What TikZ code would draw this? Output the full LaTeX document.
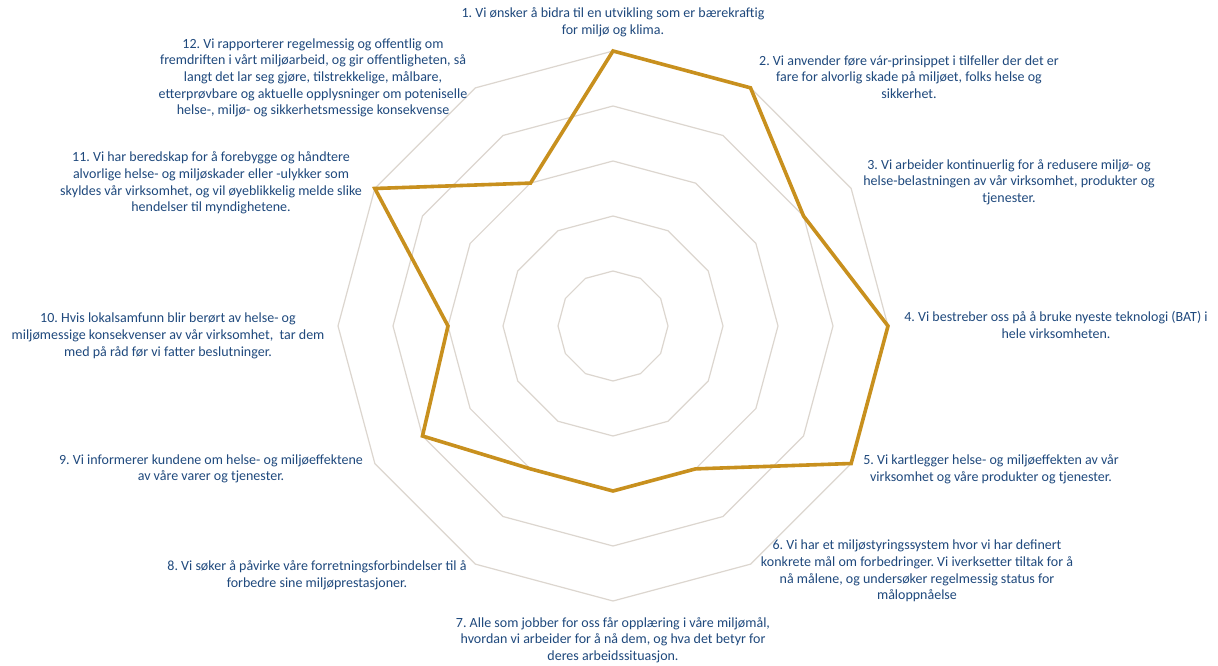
\documentclass[tikz,border=0pt]{standalone}
\usepackage{fontspec}
\setmainfont{Carlito}
\frenchspacing
\definecolor{ringgray}{HTML}{DCD6CF}
\definecolor{gold}{HTML}{C8901E}
\definecolor{txtblue}{HTML}{1F497D}
\begin{document}
\begin{tikzpicture}[x=0.75pt,y=-0.75pt,
  ring/.style={draw=ringgray,line width=0.9pt},
  series/.style={draw=gold,line width=2.7pt},
  lbl/.style={text=txtblue,align=center,inner sep=0pt,font=\fontsize{10.5}{12.5}\selectfont\frenchspacing}]
\useasboundingbox[fill=white] (0,0) rectangle (1218,666);
\begin{scope}[shift={(613,326)}]
  \foreach \r in {1,...,5} {
    \draw[ring] (-90:55*\r) \foreach \k in {1,...,11} { -- ({-90+30*\k}:55*\r) } -- cycle;
  }
  \foreach \v [count=\k] in {5,5,4,5,5,3,3,3,4,3,5,3} {
    \coordinate (p\k) at ({-120+30*\k}:55*\v);
  }
  \draw[series] (p1) -- (p2) -- (p3) -- (p4) -- (p5) -- (p6) -- (p7) -- (p8) -- (p9) -- (p10) -- (p11) -- (p12) -- cycle;
\end{scope}
\node[lbl] (l1) at (613,22) {1. Vi ønsker å bidra til en utvikling som er bærekraftig\\for miljø og klima.};
\node[lbl] (l2) at (909,77) {2. Vi anvender føre vár-prinsippet i tilfeller der det er\\fare for alvorlig skade på miljøet, folks helse og\\sikkerhet.};
\node[lbl] (l3) at (1009,182) {3. Vi arbeider kontinuerlig for å redusere miljø- og\\helse-belastningen av vår virksomhet, produkter og\\tjenester.};
\node[lbl] (l4) at (1056,325) {4. Vi bestreber oss på å bruke nyeste teknologi (BAT) i\\hele virksomheten.};
\node[lbl] (l5) at (991,469) {5. Vi kartlegger helse- og miljøeffekten av vår\\virksomhet og våre produkter og tjenester.};
\node[lbl] (l6) at (917,571) {6. Vi har et miljøstyringssystem hvor vi har definert\\konkrete mål om forbedringer. Vi iverksetter tiltak for å\\nå målene, og undersøker regelmessig status for\\måloppnåelse};
\node[lbl] (l7) at (613,640) {7. Alle som jobber for oss får opplæring i våre miljømål,\\hvordan vi arbeider for å nå dem, og hva det betyr for\\deres arbeidssituasjon.};
\node[lbl] (l8) at (317,575) {8. Vi søker å påvirke våre forretningsforbindelser til å\\forbedre sine miljøprestasjoner.};
\node[lbl] (l9) at (211,469) {9. Vi informerer kundene om helse- og miljøeffektene\\av våre varer og tjenester.};
\node[lbl] (l10) at (168,336) {10. Hvis lokalsamfunn blir berørt av helse- og\\miljømessige konsekvenser av vår virksomhet, \ tar dem\\med på råd før vi fatter beslutninger.};
\node[lbl] (l11) at (211,183) {11. Vi har beredskap for å forebygge og håndtere\\alvorlige helse- og miljøskader eller -ulykker som\\skyldes vår virksomhet, og vil øyeblikkelig melde slike\\hendelser til myndighetene.};
\node[lbl] (l12) at (313,78) {12. Vi rapporterer regelmessig og offentlig om\\fremdriften i vårt miljøarbeid, og gir offentligheten, så\\langt det lar seg gjøre, tilstrekkelige, målbare,\\etterprøvbare og aktuelle opplysninger om poteniselle\\helse-, miljø- og sikkerhetsmessige konsekvense};
\end{tikzpicture}
\end{document}
